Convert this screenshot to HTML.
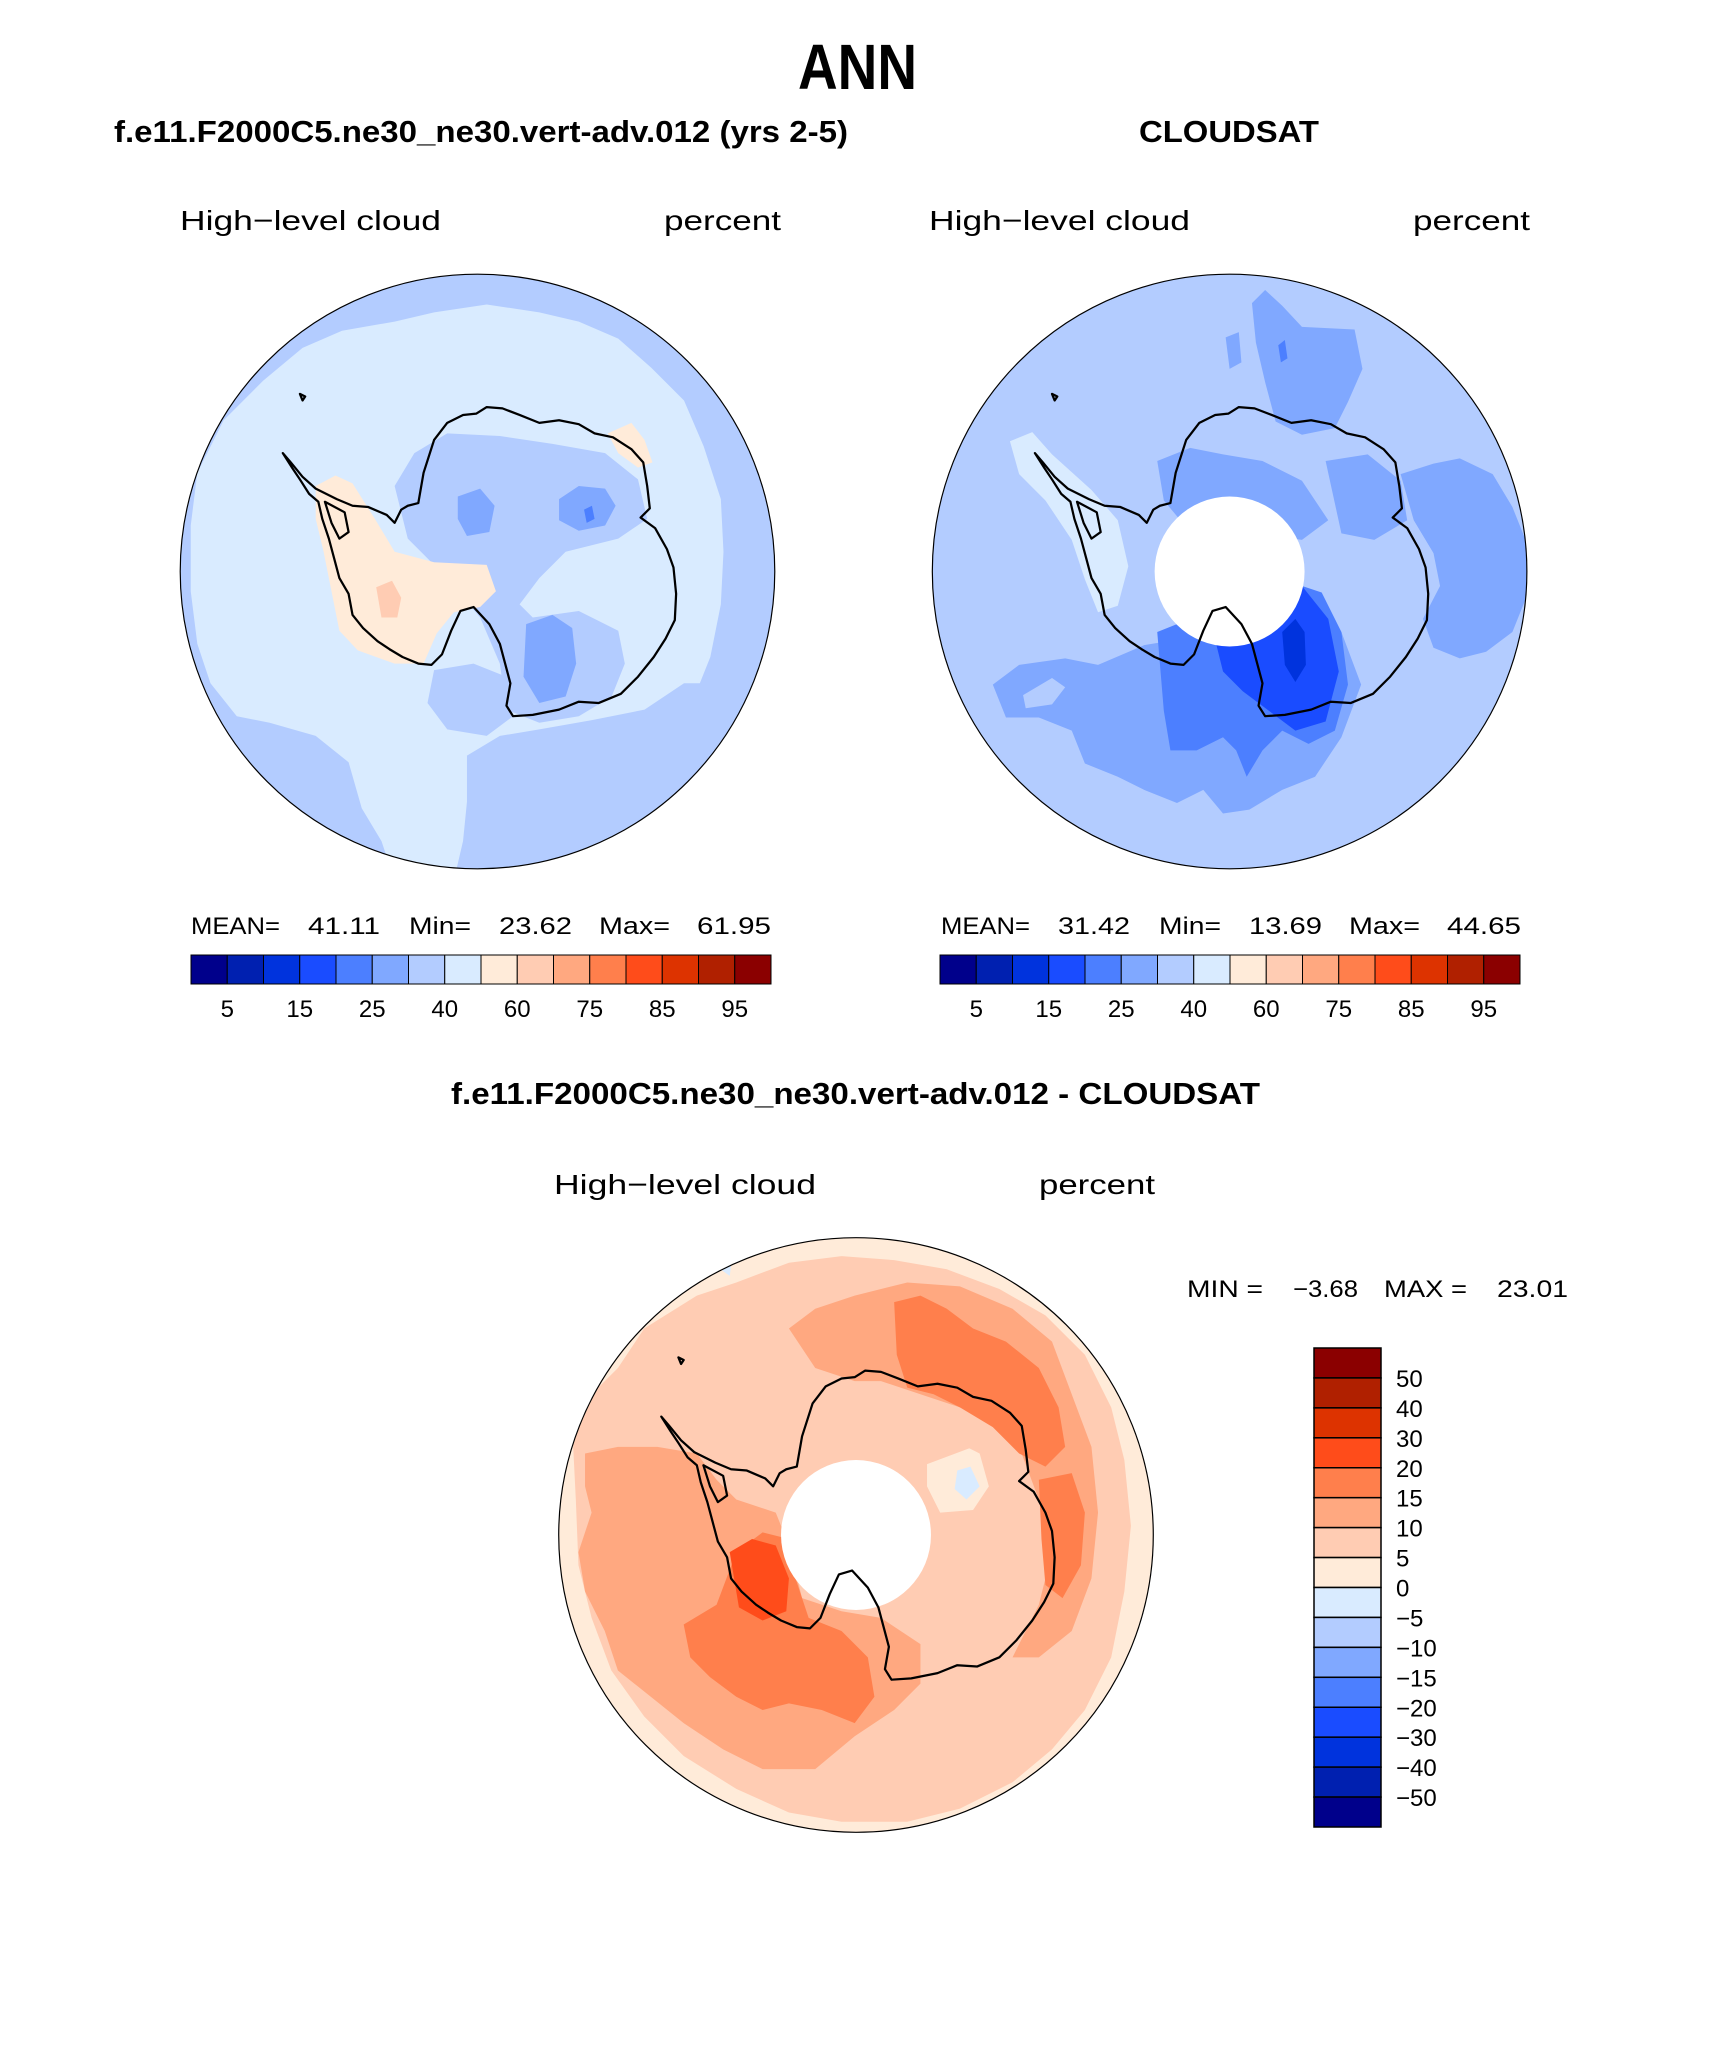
<!DOCTYPE html>
<html><head><meta charset="utf-8"><style>
html,body{margin:0;padding:0;background:#fff}
svg{display:block}
text{font-family:"Liberation Sans",sans-serif}
</style></head><body>
<svg id="fig" width="1710" height="2061" viewBox="0 0 1710 2061" xmlns="http://www.w3.org/2000/svg">
<defs>
<clipPath id="clipL" clipPathUnits="userSpaceOnUse"><circle cx="363" cy="435" r="226"/></clipPath>
<clipPath id="clipR" clipPathUnits="userSpaceOnUse"><circle cx="935" cy="434" r="226"/></clipPath>
<clipPath id="clipB" clipPathUnits="userSpaceOnUse"><circle cx="651" cy="1167" r="226"/></clipPath>
<path id="coast" fill="none" stroke="#000" stroke-width="1.7" stroke-linejoin="round" d="M318,383 L322,360 L330,335 L340,322 L352,316 L362,315 L370,310 L382,311 L395,316 L410,322 L425,320 L440,323 L452,330 L466,333 L480,342 L489,352 L492,370 L494,387 L487,394 L498,402 L507,418 L512,432 L514,452 L513,472 L506,486 L497,500 L485,515 L472,528 L455,535 L440,534 L425,540 L405,544 L390,545 L385,537 L388,520 L384,505 L380,490 L372,475 L360,462 L350,465 L343,480 L336,498 L328,506 L318,505 L306,500 L296,494 L287,488 L276,478 L268,468 L265,452 L258,440 L254,425 L250,410 L245,395 L242,382 L235,376 L228,365 L222,356 L215,345 L221,352 L230,363 L240,372 L256,380 L268,385 L280,386 L294,392 L300,398 L305,388 L310,385 Z M247,382 L262,390 L265,405 L258,410 L252,398 Z M228,300 L232,302 L230,305 Z"/>
</defs>

<text x="798" y="89" font-size="64" font-weight="bold" textLength="119" lengthAdjust="spacingAndGlyphs">ANN</text>
<text x="114" y="142" font-size="31" font-weight="bold" textLength="734" lengthAdjust="spacingAndGlyphs">f.e11.F2000C5.ne30_ne30.vert-adv.012 (yrs 2-5)</text>
<text x="1139" y="142" font-size="31" font-weight="bold" textLength="180" lengthAdjust="spacingAndGlyphs">CLOUDSAT</text>

<text x="180" y="230" font-size="28" textLength="261" lengthAdjust="spacingAndGlyphs">High−level cloud</text>
<text x="664" y="230" font-size="28" textLength="117" lengthAdjust="spacingAndGlyphs">percent</text>
<text x="929" y="230" font-size="28" textLength="261" lengthAdjust="spacingAndGlyphs">High−level cloud</text>
<text x="1413" y="230" font-size="28" textLength="117" lengthAdjust="spacingAndGlyphs">percent</text>

<g transform="translate(477.5,571.5) scale(1.3154) translate(-363,-435)">
<g clip-path="url(#clipL)">
<rect x="130" y="200" width="470" height="470" fill="#B3CCFF"/>
<path fill="#D9EBFF" d="M150,360 L170,320 L200,290 L230,265 L260,252 L300,245 L330,238 L370,232 L410,238 L440,245 L470,258 L495,280 L520,305 L535,340 L548,380 L550,420 L548,460 L540,500 L528,530 L510,555 L480,580 L450,595 L420,592 L395,585 L370,590 L355,610 L352,640 L345,670 L300,670 L290,640 L275,615 L265,580 L240,560 L205,550 L180,545 L160,520 L150,490 L145,450 L145,400 Z"/>
<path fill="#B3CCFF" d="M300,370 L315,345 L340,330 L380,332 L420,338 L460,345 L485,365 L492,395 L470,410 L430,420 L410,440 L395,460 L405,470 L440,465 L470,480 L475,505 L465,530 L440,545 L410,550 L385,540 L380,505 L365,470 L340,440 L310,410 Z"/>
<path fill="#B3CCFF" d="M355,575 L380,560 L410,555 L450,548 L490,540 L520,520 L535,520 L528,560 L505,600 L470,630 L440,655 L400,665 L370,655 L355,620 Z"/>
<path fill="#B3CCFF" d="M330,510 L360,505 L385,515 L390,545 L370,560 L340,555 L325,535 Z"/>
<path fill="#80A8FF" d="M348,378 L365,372 L376,385 L372,405 L355,408 L348,395 Z"/>
<path fill="#80A8FF" d="M425,380 L440,370 L460,372 L468,385 L460,400 L440,404 L425,396 Z"/>
<path fill="#4C7FFF" d="M444,388 L450,385 L452,395 L446,398 Z"/>
<path fill="#80A8FF" d="M400,475 L420,468 L435,478 L438,505 L430,530 L410,535 L398,515 Z"/>
<path fill="#FFEBD9" d="M240,370 L255,362 L268,368 L285,395 L300,420 L330,428 L370,430 L377,450 L365,462 L345,466 L332,482 L322,505 L300,505 L272,495 L258,480 L252,450 L246,420 L240,395 Z"/>
<path fill="#FFEBD9" d="M462,330 L480,322 L490,335 L496,352 L485,356 L470,345 Z"/>
<path fill="#FFCCB3" d="M286,447 L298,442 L305,455 L302,470 L290,470 Z"/>
</g>
<use href="#coast"/>
<circle cx="363" cy="435" r="226" fill="none" stroke="#000" stroke-width="0.9"/>
</g>

<g transform="translate(1229.6,571.5) scale(1.3154) translate(-935,-434)">
<g clip-path="url(#clipR)">
<rect x="700" y="200" width="470" height="470" fill="#B3CCFF"/>
<path fill="#D9EBFF" d="M768,335 L785,328 L800,345 L830,372 L850,395 L858,430 L850,460 L835,465 L825,440 L815,410 L795,380 L775,360 Z"/>
<path fill="#D9EBFF" d="M709,340 L720,335 L725,350 L712,360 Z"/>
<path fill="#80A8FF" d="M952,230 L962,220 L975,232 L990,248 L1030,250 L1036,280 L1025,305 L1015,325 L990,330 L970,320 L962,290 L955,260 Z"/>
<path fill="#80A8FF" d="M932,256 L942,252 L944,275 L935,280 Z"/>
<path fill="#4C7FFF" d="M972,262 L977,258 L979,272 L974,275 Z"/>
<path fill="#80A8FF" d="M1065,360 L1090,352 L1110,348 L1135,360 L1150,385 L1160,410 L1162,450 L1150,480 L1130,495 L1110,500 L1090,492 L1082,470 L1095,445 L1090,420 L1075,395 Z"/>
<path fill="#80A8FF" d="M1008,350 L1040,345 L1065,365 L1070,395 L1045,410 L1020,405 Z"/>
<path fill="#80A8FF" d="M880,350 L905,340 L930,345 L960,350 L990,365 L1010,395 L990,410 L955,405 L930,400 L900,398 L885,380 Z"/>
<path fill="#80A8FF" d="M755,520 L775,505 L810,500 L835,505 L870,490 L900,485 L940,475 L990,470 L1020,480 L1035,520 L1020,560 L1000,590 L975,600 L950,615 L930,618 L915,600 L895,610 L870,600 L850,590 L825,580 L815,555 L790,545 L765,545 Z"/>
<path fill="#B3CCFF" d="M778,528 L800,515 L810,522 L800,535 L780,538 Z"/>
<path fill="#4C7FFF" d="M880,480 L905,470 L940,450 L975,440 L1005,450 L1020,480 L1025,520 L1015,555 L995,565 L975,555 L960,570 L948,590 L940,570 L930,560 L910,570 L890,570 L885,540 Z"/>
<path fill="#1A4CFF" d="M925,470 L960,445 L990,445 L1010,470 L1018,510 L1008,548 L985,555 L965,540 L945,525 L930,510 L925,490 Z"/>
<path fill="#0033DD" d="M975,480 L985,470 L992,480 L993,505 L985,518 L977,505 Z"/>
</g>
<circle cx="935" cy="434" r="57" fill="#fff"/>
<use href="#coast" transform="translate(572,-1)"/>
<circle cx="935" cy="434" r="226" fill="none" stroke="#000" stroke-width="0.9"/>
</g>

<g transform="translate(856,1535) scale(1.3154) translate(-651,-1167)">
<g clip-path="url(#clipB)">
<rect x="420" y="930" width="470" height="470" fill="#FFEBD9"/>
<path fill="#FFCCB3" d="M440,1070 L470,1040 L490,1010 L530,985 L560,975 L600,960 L640,955 L680,958 L720,965 L760,980 L795,1000 L825,1030 L845,1070 L855,1110 L860,1160 L855,1210 L845,1260 L825,1300 L800,1330 L770,1355 L730,1375 L690,1385 L640,1385 L600,1378 L560,1360 L520,1335 L490,1305 L465,1270 L450,1230 L440,1190 L438,1140 L436,1100 Z"/>
<path fill="#FFA880" d="M445,1105 L470,1100 L500,1100 L530,1105 L545,1125 L560,1140 L590,1150 L600,1175 L610,1215 L640,1225 L670,1230 L700,1250 L700,1280 L680,1300 L650,1320 L620,1345 L580,1345 L550,1330 L520,1310 L495,1290 L470,1270 L460,1240 L445,1210 L440,1180 L450,1150 L445,1130 Z"/>
<path fill="#FFA880" d="M600,1010 L620,995 L650,985 L690,975 L730,978 L770,995 L800,1020 L815,1060 L830,1100 L835,1150 L830,1200 L815,1240 L790,1260 L770,1260 L790,1220 L800,1180 L790,1140 L775,1100 L760,1080 L730,1070 L700,1060 L670,1050 L650,1050 L620,1040 Z"/>
<path fill="#FF7F4C" d="M680,990 L700,985 L720,995 L740,1010 L765,1020 L790,1040 L805,1070 L810,1100 L795,1115 L775,1105 L755,1085 L730,1070 L710,1060 L690,1055 L682,1030 Z"/>
<path fill="#FF7F4C" d="M790,1125 L815,1120 L825,1150 L822,1190 L808,1215 L795,1205 L792,1170 Z"/>
<path fill="#FF7F4C" d="M520,1235 L545,1220 L560,1180 L580,1165 L600,1170 L605,1200 L615,1230 L640,1240 L660,1260 L665,1290 L650,1310 L625,1300 L600,1295 L580,1300 L560,1290 L540,1275 L525,1260 Z"/>
<path fill="#FF4C1A" d="M555,1180 L572,1170 L590,1175 L600,1200 L598,1225 L580,1232 L562,1222 Z"/>
<path fill="#FFEBD9" d="M705,1105 L725,1095 L745,1105 L752,1130 L740,1148 L715,1150 L705,1130 Z"/>
<path fill="#D9EBFF" d="M728,1118 L738,1115 L745,1130 L735,1140 L726,1132 Z"/>
<path fill="#FFCCB3" d="M660,1070 L690,1070 L720,1085 L740,1100 L700,1115 L680,1095 Z"/>
<path fill="#D9EBFF" d="M548,965 L556,962 L555,970 Z"/>
</g>
<circle cx="651" cy="1167" r="57" fill="#fff"/>
<use href="#coast" transform="translate(288,732)"/>
<circle cx="651" cy="1167" r="226" fill="none" stroke="#000" stroke-width="0.9"/>
</g>

<g font-size="24">
<text x="191" y="934" textLength="89" lengthAdjust="spacingAndGlyphs">MEAN=</text>
<text x="308" y="934" textLength="72" lengthAdjust="spacingAndGlyphs">41.11</text>
<text x="409" y="934" textLength="62" lengthAdjust="spacingAndGlyphs">Min=</text>
<text x="499" y="934" textLength="73" lengthAdjust="spacingAndGlyphs">23.62</text>
<text x="599" y="934" textLength="71" lengthAdjust="spacingAndGlyphs">Max=</text>
<text x="697" y="934" textLength="74" lengthAdjust="spacingAndGlyphs">61.95</text>
</g>
<g font-size="24">
<text x="941" y="934" textLength="89" lengthAdjust="spacingAndGlyphs">MEAN=</text>
<text x="1058" y="934" textLength="72" lengthAdjust="spacingAndGlyphs">31.42</text>
<text x="1159" y="934" textLength="62" lengthAdjust="spacingAndGlyphs">Min=</text>
<text x="1249" y="934" textLength="73" lengthAdjust="spacingAndGlyphs">13.69</text>
<text x="1349" y="934" textLength="71" lengthAdjust="spacingAndGlyphs">Max=</text>
<text x="1447" y="934" textLength="74" lengthAdjust="spacingAndGlyphs">44.65</text>
</g>

<text x="451" y="1104" font-size="31" font-weight="bold" textLength="809" lengthAdjust="spacingAndGlyphs">f.e11.F2000C5.ne30_ne30.vert-adv.012 - CLOUDSAT</text>
<text x="554" y="1194" font-size="28" textLength="262" lengthAdjust="spacingAndGlyphs">High−level cloud</text>
<text x="1039" y="1194" font-size="28" textLength="116" lengthAdjust="spacingAndGlyphs">percent</text>
<g font-size="24">
<text x="1187" y="1297" textLength="76" lengthAdjust="spacingAndGlyphs">MIN =</text>
<text x="1293" y="1297" textLength="65" lengthAdjust="spacingAndGlyphs">−3.68</text>
<text x="1384" y="1297" textLength="83" lengthAdjust="spacingAndGlyphs">MAX =</text>
<text x="1497" y="1297" textLength="71" lengthAdjust="spacingAndGlyphs">23.01</text>
</g>

<g id="cbars"></g>
</svg>
<script>
const absColors = ["#00008B","#0020B0","#0033DD","#1A4CFF","#4C7FFF","#80A8FF","#B3CCFF","#D9EBFF","#FFEBD9","#FFCCB3","#FFA880","#FF7F4C","#FF4C1A","#DD3300","#B02000","#8B0000"];
const absLabels = ["5","15","25","40","60","75","85","95"];
const diffColors = ["#8B0000","#B02000","#DD3300","#FF4C1A","#FF7F4C","#FFA880","#FFCCB3","#FFEBD9","#D9EBFF","#B3CCFF","#80A8FF","#4C7FFF","#1A4CFF","#0033DD","#0020B0","#00008B"];
const diffLabels = ["50","40","30","20","15","10","5","0","−5","−10","−15","−20","−30","−40","−50"];

const NS = "http://www.w3.org/2000/svg";
const root = document.getElementById("cbars");
function mk(tag, attrs, parent){
  const e = document.createElementNS(NS, tag);
  for (const k in attrs) e.setAttribute(k, attrs[k]);
  parent.appendChild(e);
  return e;
}
function hbar(x0, name){
  const g = mk("g", {}, root);
  
  
  const w = 580 / absColors.length, y = 955, h = 29;
  absColors.forEach((c, i) => {
    const r = mk("rect", {x: x0 + i*w, y: y, width: w, height: h, fill: c, stroke: "#000", "stroke-width": 1}, g);
    
    
  });
  absLabels.forEach((t, i) => {
    const tx = mk("text", {x: x0 + (2*i+1)*w, y: 1017, "font-size": 24, "text-anchor": "middle"}, g);
    tx.textContent = t;
    
    
  });
}
hbar(191, "left-colorbar");
hbar(940, "right-colorbar");

(function(){
  const g = mk("g", {}, root);
  
  
  const x = 1314, w = 67, y0 = 1348, h = 479 / diffColors.length;
  diffColors.forEach((c, i) => {
    const r = mk("rect", {x: x, y: y0 + i*h, width: w, height: h, fill: c, stroke: "#000", "stroke-width": 1.5}, g);
    
    
  });
  diffLabels.forEach((t, i) => {
    const tx = mk("text", {x: 1396, y: y0 + (i+1)*h + 9, "font-size": 24}, g);
    tx.textContent = t;
    
    
  });
})();
</script>
</body></html>
